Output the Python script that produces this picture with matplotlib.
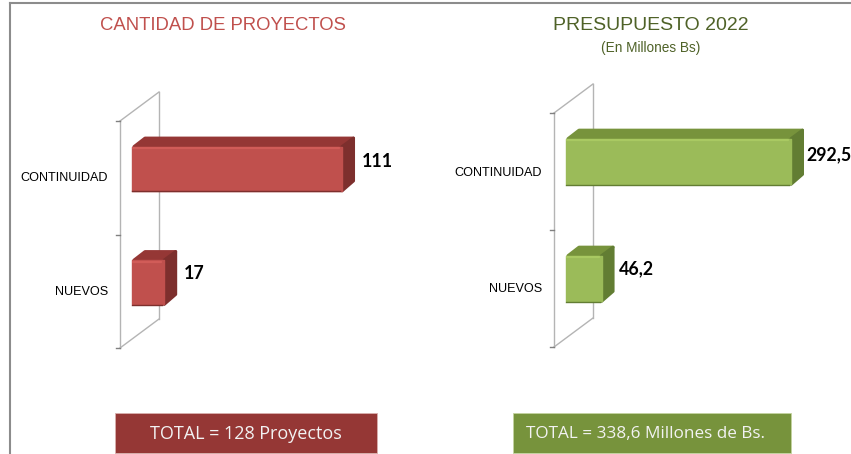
import matplotlib
matplotlib.use("Agg")
import matplotlib.pyplot as plt
from matplotlib.patches import Polygon, Rectangle
from matplotlib.transforms import Affine2D, IdentityTransform

categories = ["CONTINUIDAD", "NUEVOS"]
proyectos = [111, 17]
presupuesto = [292.5, 46.2]
proyectos_labels = ["111", "17"]
presupuesto_labels = ["292,5", "46,2"]

W, H = 851, 454
fig = plt.figure(figsize=(W / 100, H / 100), dpi=100)
bg = fig.add_axes([0, 0, 1, 1])
bg.set_xlim(0, W)
bg.set_ylim(H, 0)
bg.axis("off")

GRID = "#b4b4b4"
DEPTH = (13, 10)


def panel(values, labels, wall_x, top, bottom, scale, colors, label_x, pads, lifts, rise, name_dy):
    front, dark, side, light = colors
    # axes box is the front wall, in pixels from the top left
    width = 250
    ax = fig.add_axes([wall_x / W, 1 - bottom / H, width / W, (bottom - top) / H])
    ax.set_xlim(0, width / scale)
    ax.set_ylim(1.5, -0.5)
    ax.axis("off")

    # walls
    mid = (top + bottom) / 2
    bg.plot([wall_x, wall_x], [top, bottom], color=GRID, lw=1)
    bg.plot([wall_x + 39, wall_x + 39], [top - 29, bottom - 29], color=GRID, lw=1)
    bg.plot([wall_x, wall_x + 39], [top, top - 29], color=GRID, lw=1)
    bg.plot([wall_x, wall_x + 39], [bottom, bottom - 29], color=GRID, lw=1)
    for y in [top, mid, bottom]:
        bg.plot([wall_x - 4, wall_x], [y, y], color="#808080", lw=1)

    # bars sit 12 px in and some px up from the front wall
    shift = Affine2D().translate(12, rise)
    bars = ax.barh(range(len(values)), values, height=0.39, color=front,
                   edgecolor=front, lw=1, joinstyle="round",
                   transform=ax.transData + shift, zorder=3)
    for i, b in enumerate(bars):
        x0, y0 = ax.transData.transform((0, i - 0.195))
        x1, y1 = ax.transData.transform((values[i], i + 0.195))
        x0, x1, y0, y1 = x0 + 12, x1 + 12, y0 + rise, y1 + rise
        dx, dy = DEPTH
        r = 1.5
        top_face = [(x0 + 2, y0), (x1, y0), (x1 + dx - r, y0 + dy - r), (x0 + dx, y0 + dy - r)]
        side_face = [(x1, y0), (x1 + dx - r, y0 + dy - r), (x1 + dx - r, y1 + dy), (x1, y1)]
        for pts, c in [(top_face, dark), (side_face, side)]:
            ax.add_patch(Polygon(pts, closed=True, facecolor=c, edgecolor=c, lw=2.2,
                                 joinstyle="round", transform=IdentityTransform(), zorder=2))
        ax.plot([x0 + 1, x1 - 3], [y0 - 1.5, y0 - 1.5], color=light, lw=1.6,
                transform=IdentityTransform(), zorder=4, solid_capstyle="round", alpha=0.7)
        ax.plot([x0, x1 - 2], [y1 - 0.5, y1 - 0.5], color=side, lw=1,
                transform=IdentityTransform(), zorder=4)
        ax.annotate(labels[i], xy=(x1 + dx + pads[i], (y0 + y1) / 2 + lifts[i]),
                    xycoords=IdentityTransform(), ha="left", va="center",
                    fontsize=12.8, fontweight="bold", family="Lato", color="black",
                    annotation_clip=False, zorder=5)
        bg.text(label_x, top + (bottom - top) * (i + 0.5) / 2 + name_dy, categories[i], ha="right",
                va="center", fontsize=9.1, family="Liberation Sans", color="black")


# frame of the slide
bg.plot([10, W], [3, 3], color="#8c8c8c", lw=1.5)
bg.plot([10, 10], [3, H], color="#8c8c8c", lw=1.5)

panel(proyectos, proyectos_labels, 120, 121, 348, 210 / 111,
      ("#c0504d", "#953735", "#7d2f2d", "#d9625e"), 108, [7, 7], [7, 9], 9, 0.5)
panel(presupuesto, presupuesto_labels, 554, 113, 347, 225 / 292.5,
      ("#9bbb59", "#77933c", "#627d33", "#b0d066"), 542, [2, 4], [7, 10], 10, 1)

bg.text(222.5, 26, "CANTIDAD DE PROYECTOS", ha="center", va="center", fontsize=13.3,
        family="Liberation Sans", color="#c0504d")
bg.text(651, 26, "PRESUPUESTO 2022", ha="center", va="center", fontsize=14,
        family="Liberation Sans", color="#4f6228")
bg.text(651, 48, "(En Millones Bs)", ha="center", va="center", fontsize=9.8,
        family="Liberation Sans", color="#4f6228")

bg.add_patch(Rectangle((115, 413), 262, 40, facecolor="#953735", edgecolor="#d9b0ae", lw=0.6))
bg.add_patch(Rectangle((513, 413), 278, 40, facecolor="#77933c", edgecolor="#c4d3a0", lw=0.6))
bg.text(245.5, 434, "TOTAL = 128 Proyectos", ha="center", va="center", fontsize=13,
        family="Open Sans", color="#f2f2f2")
bg.text(645, 434, "TOTAL = 338,6 Millones de Bs.", ha="center", va="center", fontsize=12.3,
        family="Open Sans", color="#f2f2f2")

fig.savefig("out.png", dpi=100)
